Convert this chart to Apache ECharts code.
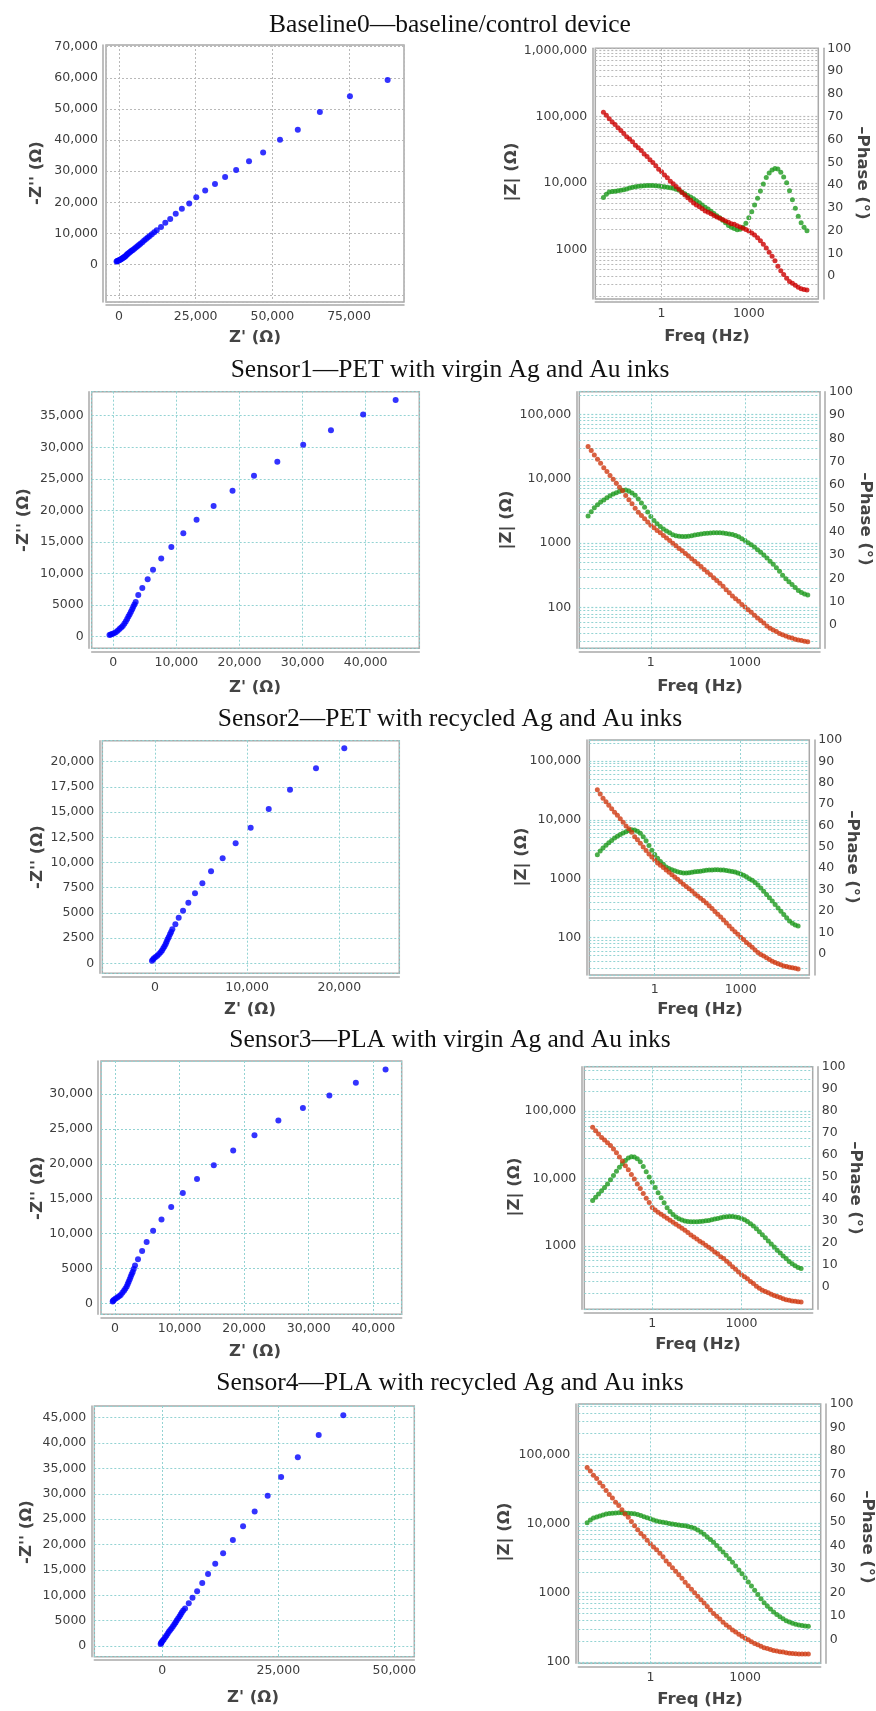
<!DOCTYPE html>
<html>
<head>
<meta charset="utf-8">
<title>Impedance of baseline and sensors</title>
<script src="https://cdn.jsdelivr.net/npm/echarts@6/dist/echarts.min.js"></script>
<style>
  html, body { margin: 0; padding: 0; background: #fff; }
  #chart { width: 876px; height: 1711px; }
</style>
</head>
<body>
<div id="chart"></div>
<script>
// measured frequencies (Hz), 10 per decade
const freq = [0.01, 0.0126, 0.0158, 0.02, 0.0251, 0.0316, 0.0398, 0.0501, 0.0631, 0.0794,
  0.1, 0.126, 0.158, 0.2, 0.251, 0.316, 0.398, 0.501, 0.631, 0.794,
  1, 1.26, 1.58, 2, 2.51, 3.16, 3.98, 5.01, 6.31, 7.94,
  10, 12.6, 15.8, 20, 25.1, 31.6, 39.8, 50.1, 63.1, 79.4,
  100, 126, 158, 200, 251, 316, 398, 501, 631, 794,
  1000, 1260, 1580, 2000, 2510, 3160, 3980, 5010, 6310, 7940,
  10000, 12600, 15800, 20000, 25100, 31600, 39800, 50100, 63100, 79400,
  100000]

// |Z| (ohm) per device
const zBaseline = [117000, 105000, 93000, 83000, 76000, 68000, 62000, 56000, 50000, 46000,
  42000, 37000, 34000, 31000, 27500, 25100, 22400, 20400, 18200, 16200,
  14800, 13200, 12000, 10700, 9800, 8900, 8100, 7200, 6600, 6000,
  5500, 5000, 4700, 4400, 4100, 3800, 3630, 3470, 3240, 3090,
  2950, 2820, 2690, 2570, 2450, 2400, 2290, 2190, 2090, 2000,
  1900, 1780, 1660, 1510, 1350, 1200, 1050, 910, 790, 680,
  560, 480, 420, 370, 330, 310, 290, 270, 257, 251,
  245]
const zSensor1 = [31600, 27500, 23400, 20000, 17400, 14800, 12900, 11200, 9800, 8500,
  7400, 6500, 5500, 4700, 4100, 3470, 3020, 2690, 2400, 2140,
  1900, 1740, 1580, 1450, 1320, 1200, 1100, 1000, 910, 830,
  760, 690, 630, 575, 525, 480, 435, 390, 355, 325,
  290, 263, 240, 214, 190, 170, 151, 138, 126, 112,
  102, 93, 85, 76, 69, 63, 58, 52, 48, 45,
  42.7, 39.8, 38.0, 36.3, 34.7, 33.9, 32.4, 31.6, 30.9, 30.2,
  29.5]
const zSensor2 = [32400, 27500, 23400, 20400, 17800, 15500, 13500, 12000, 10500, 9100,
  7900, 7100, 6200, 5200, 4600, 4000, 3470, 3020, 2630, 2340,
  2090, 1860, 1700, 1550, 1410, 1290, 1170, 1070, 980, 890,
  810, 740, 680, 620, 560, 510, 470, 430, 390, 350,
  315, 280, 250, 224, 200, 178, 158, 141, 126, 115,
  102, 93, 83, 76, 69, 62, 56, 52, 49, 45.7,
  42.7, 39.8, 38.0, 36.3, 34.7, 33.1, 32.4, 31.6, 30.9, 30.2,
  29.5]
const zSensor3 = [57500, 51300, 45700, 40700, 37200, 33900, 30900, 27500, 24000, 20900,
  18200, 15500, 13500, 11500, 9800, 8300, 7100, 6000, 5100, 4400,
  3720, 3390, 3160, 2950, 2750, 2570, 2400, 2240, 2090, 1950,
  1820, 1700, 1580, 1450, 1350, 1260, 1170, 1100, 1020, 950,
  890, 810, 760, 690, 645, 590, 540, 490, 447, 407,
  372, 347, 324, 295, 275, 251, 234, 219, 209, 200,
  190, 182, 176, 170, 164, 158, 155, 151, 150, 148,
  146]
const zSensor4 = [64600, 57500, 50100, 44700, 38900, 34700, 30200, 26300, 23400, 20400,
  18200, 15800, 13800, 12300, 10700, 9300, 8100, 7200, 6500, 5750,
  5100, 4570, 4170, 3720, 3310, 2880, 2570, 2290, 2040, 1820,
  1620, 1410, 1260, 1120, 1000, 890, 790, 710, 630, 560,
  500, 457, 417, 372, 339, 316, 288, 269, 251, 234,
  219, 209, 195, 184, 176, 168, 160, 155, 150, 146,
  143, 140, 138, 135, 133, 132, 131, 130, 129.5, 129,
  129]

// -phase (deg) per device
const phBaseline = [34.5, 36.0, 37.0, 37.2, 37.3, 37.5, 37.7, 37.9, 38.3, 38.7,
  39.0, 39.3, 39.5, 39.6, 39.7, 39.8, 39.8, 39.8, 39.7, 39.6,
  39.4, 39.2, 39.0, 38.8, 38.6, 38.2, 37.7, 37.0, 36.2, 35.4,
  34.8, 34.0, 33.1, 32.2, 31.2, 30.3, 29.5, 28.5, 27.5, 26.5,
  25.6, 24.6, 23.5, 22.3, 21.5, 20.9, 20.4, 20.6, 21.5, 23.2,
  25.7, 28.3, 31.2, 34.2, 37.4, 40.5, 43.3, 45.3, 46.6, 47.3,
  47.0, 45.6, 43.5, 41.0, 37.5, 33.5, 29.8, 26.3, 23.5, 21.5,
  20.0]
const phSensor1 = [46.7, 48.5, 50.2, 51.5, 52.7, 53.6, 54.5, 55.4, 56.1, 56.7,
  57.3, 57.8, 57.9, 57.4, 56.6, 55.6, 54.0, 52.3, 50.5, 48.4,
  46.5, 44.8, 43.4, 42.2, 41.1, 40.3, 39.5, 38.7, 38.2, 38.0,
  37.9, 37.9, 38.0, 38.3, 38.6, 38.8, 39.0, 39.2, 39.3, 39.4,
  39.5, 39.5, 39.5, 39.4, 39.2, 39.0, 38.8, 38.4, 37.8, 37.0,
  36.2, 35.3, 34.4, 33.4, 32.3, 31.2, 30.0, 28.7, 27.3, 26.0,
  24.5, 23.0, 21.3, 19.8, 18.5, 17.3, 16.1, 14.8, 13.9, 13.3,
  12.9]
const phSensor2 = [46.3, 48.0, 49.4, 50.7, 51.9, 53.0, 54.1, 55.0, 55.8, 56.5,
  57.1, 57.6, 58.0, 57.9, 57.3, 56.3, 54.7, 52.8, 50.6, 48.4,
  46.4, 44.6, 43.1, 41.8, 40.6, 39.9, 39.3, 38.8, 38.3, 38.0,
  37.8, 37.8, 37.9, 38.1, 38.3, 38.5, 38.6, 38.8, 39.0, 39.1,
  39.2, 39.3, 39.3, 39.2, 39.1, 38.9, 38.7, 38.5, 38.2, 37.8,
  37.3, 36.7, 36.0, 35.1, 34.3, 33.3, 32.1, 30.7, 29.2, 27.7,
  26.2, 24.6, 23.0, 21.4, 19.8, 18.3, 16.8, 15.3, 14.2, 13.4,
  12.9]
const phSensor3 = [39.3, 40.8, 42.3, 43.7, 45.2, 46.8, 48.7, 50.7, 52.6, 54.4,
  56.0, 57.5, 58.6, 59.2, 59.1, 58.3, 56.9, 54.7, 52.4, 50.0,
  47.6, 45.2, 42.9, 40.6, 38.3, 36.1, 34.3, 33.0, 31.9, 31.1,
  30.5, 30.0, 29.8, 29.7, 29.7, 29.7, 29.8, 29.9, 30.1, 30.3,
  30.6, 30.9, 31.2, 31.5, 31.8, 32.0, 32.1, 32.1, 31.9, 31.6,
  31.2, 30.6, 29.8, 28.8, 27.8, 26.5, 25.2, 23.8, 22.4, 21.0,
  19.6, 18.2, 16.8, 15.5, 14.2, 13.0, 11.7, 10.6, 9.7, 9.0,
  8.5]
const phSensor4 = [49.6, 50.8, 51.6, 52.1, 52.5, 52.9, 53.3, 53.5, 53.7, 53.8,
  53.9, 53.9, 53.8, 53.7, 53.6, 53.4, 53.1, 52.7, 52.2, 51.7,
  51.3, 50.8, 50.4, 50.1, 49.8, 49.6, 49.3, 49.1, 48.9, 48.7,
  48.5, 48.3, 48.0, 47.7, 47.3, 46.6, 45.7, 44.7, 43.6, 42.5,
  41.3, 40.0, 38.6, 37.2, 35.8, 34.4, 32.9, 31.3, 29.6, 28.0,
  26.3, 24.5, 22.8, 21.0, 19.2, 17.4, 15.7, 14.3, 13.0, 11.8,
  10.7, 9.7, 8.9, 8.1, 7.5, 7.0, 6.6, 6.3, 6.0, 5.8,
  5.7]

// Nyquist points [Z', -Z''] (ohm)
const nyqBaseline = [[87600, 59300], [75300, 54100], [65500, 49000], [58300, 43300], [52500, 40100],
  [47000, 36000], [42400, 33200], [38200, 30400], [34600, 28100], [31300, 25900], [28100, 23800],
  [25200, 21600], [22900, 19600], [20500, 17900], [18500, 16300], [16700, 14600], [15100, 13400],
  [13700, 12100], [12300, 11000], [11500, 10400], [10700, 9700], [10000, 9200], [9400, 8700],
  [8800, 8200], [8200, 7700], [7600, 7200], [7000, 6700], [6500, 6300], [6000, 5900], [5500, 5500],
  [5000, 5100], [4500, 4700], [4100, 4400], [3700, 4100], [3300, 3800], [2900, 3500], [2600, 3200],
  [2300, 2900], [2000, 2600], [1700, 2400], [1400, 2200], [1100, 2000], [800, 1800], [500, 1600],
  [200, 1500], [-100, 1300], [-400, 1200], [-600, 1100], [-800, 1000]]
const nyqSensor1 = [[44750, 37500], [39600, 35200], [34500, 32700], [30100, 30400], [26000, 27700],
  [22300, 25500], [18900, 23100], [15900, 20700], [13200, 18500], [11100, 16400], [9200, 14200],
  [7600, 12400], [6300, 10600], [5450, 9100], [4600, 7700], [3960, 6600], [3550, 5500], [3350, 5100],
  [3170, 4750], [3000, 4350], [2800, 3960], [2600, 3550], [2400, 3200], [2200, 2800], [1980, 2400],
  [1750, 2050], [1500, 1700], [1250, 1450], [980, 1200], [700, 950], [400, 700], [100, 550],
  [-180, 420], [-400, 330], [-600, 260]]
const nyqSensor2 = [[20540, 21330], [17470, 19350], [14650, 17220], [12340, 15310], [10380, 13450],
  [8750, 11900], [7340, 10420], [6080, 9130], [5140, 7940], [4340, 6940], [3620, 6010], [3040, 5220],
  [2570, 4520], [2210, 3870], [1880, 3370], [1750, 3100], [1630, 2880], [1500, 2620], [1370, 2380],
  [1260, 2150], [1160, 1920], [1030, 1700], [900, 1490], [760, 1280], [610, 1090], [430, 920],
  [250, 760], [70, 620], [-110, 500], [-220, 380], [-330, 260]]
const nyqSensor3 = [[41900, 33500], [37300, 31600], [33200, 29800], [29100, 28000], [25300, 26200],
  [21600, 24100], [18300, 21900], [15300, 19800], [12700, 17800], [10500, 15800], [8700, 13800],
  [7200, 12000], [5900, 10400], [4900, 8800], [4200, 7500], [3560, 6300], [3100, 5400], [2900, 4900],
  [2740, 4500], [2580, 4150], [2430, 3800], [2280, 3450], [2120, 3100], [1970, 2750], [1810, 2400],
  [1600, 2100], [1390, 1800], [1140, 1500], [880, 1200], [620, 1000], [360, 840], [100, 670],
  [-150, 500], [-300, 350], [-360, 260]]
const nyqSensor4 = [[39000, 45500], [33700, 41600], [29200, 37200], [25600, 33300], [22700, 29600],
  [19900, 26500], [17400, 23600], [15200, 20900], [13100, 18300], [11400, 16200], [9850, 14200],
  [8600, 12400], [7500, 10800], [6500, 9500], [5700, 8400], [4900, 7400], [4500, 7000], [4200, 6600],
  [3950, 6200], [3700, 5800], [3400, 5400], [3100, 5000], [2850, 4650], [2600, 4300], [2300, 3900],
  [2000, 3500], [1700, 3150], [1400, 2800], [1130, 2400], [860, 2000], [580, 1650], [290, 1300],
  [70, 1050], [-140, 800], [-250, 600], [-360, 400]]

const titles = ['Baseline0\u2014baseline/control device',
  'Sensor1\u2014PET with virgin Ag and Au inks',
  'Sensor2\u2014PET with recycled Ag and Au inks',
  'Sensor3\u2014PLA with virgin Ag and Au inks',
  'Sensor4\u2014PLA with recycled Ag and Au inks']
const titleY = [25, 370, 719, 1040, 1383]

const FRAME = '#a9a9a9'
const GRID_GREY = '#b9b9b9'
const GRID_CYAN = '#93d3d3'
const LABEL = { fontFamily: 'DejaVu Sans', fontSize: 12.5, color: '#3d3d3d' }
const NAME_FONT = 'bold 16.5px "DejaVu Sans"'
const NAME_COLOR = '#444444'
const F_MIN = 0.00525, F_MAX = 245500

// layout of each panel: box = [left, top, width, height]
const nyqPanels = [
  { data: nyqBaseline, box: [106, 45, 298, 257], x: [-4239, 92935, 25000], y: [-12030, 70547, 10000], grid: GRID_GREY, xName: [255, 338], yName: [37, 173] },
  { data: nyqSensor1, box: [91.7, 391.7, 327.6, 256.6], x: [-3420, 48500, 10000], y: [-1840, 38800, 5000], grid: GRID_CYAN, xName: [255, 688], yName: [24, 520] },
  { data: nyqSensor2, box: [102.3, 740.7, 297, 232.6], x: [-5720, 26510, 10000], y: [-990, 22080, 2500], grid: GRID_CYAN, xName: [250, 1010], yName: [38, 857] },
  { data: nyqSensor3, box: [101, 1061, 300.7, 253.3], x: [-2170, 44400, 10000], y: [-1580, 34730, 5000], grid: GRID_CYAN, xName: [255, 1352], yName: [38, 1188] },
  { data: nyqSensor4, box: [94.3, 1406, 320, 250.7], x: [-14660, 54300, 25000], y: [-2110, 47300, 5000], grid: GRID_CYAN, xName: [253, 1698], yName: [27, 1532] }
]
const bodePanels = [
  { z: zBaseline, ph: phBaseline, box: [595.3, 48.3, 223, 250.7], zr: [180, 1070000], grid: GRID_GREY, red: '#cc0000', xName: [707, 337], zName: [512, 172], phName: [862, 173] },
  { z: zSensor1, ph: phSensor1, box: [579.3, 391.7, 240.7, 256.6], zr: [23.4, 224000], grid: GRID_CYAN, red: '#cf3a12', xName: [700, 687], zName: [507, 520], phName: [865, 519] },
  { z: zSensor2, ph: phSensor2, box: [589.3, 740, 220, 235], zr: [23.3, 227500], grid: GRID_CYAN, red: '#cf3a12', xName: [700, 1010], zName: [522, 857], phName: [852, 857] },
  { z: zSensor3, ph: phSensor3, box: [584.3, 1066.7, 228.4, 242.6], zr: [114, 457000], grid: GRID_CYAN, red: '#cf3a12', xName: [698, 1345], zName: [515, 1187], phName: [855, 1188] },
  { z: zSensor4, ph: phSensor4, box: [578.3, 1404, 242.4, 259.3], zr: [95, 537000], grid: GRID_CYAN, red: '#cf3a12', xName: [700, 1700], zName: [505, 1532], phName: [867, 1537] }
]

function fmt(v) {
  return Math.abs(v) >= 10000 ? v.toLocaleString('en-US') : String(v)
}
function isDecade(v, p) {
  const l = Math.log10(v)
  return Math.abs(l - Math.round(l)) < 1e-6 && (p === undefined || Math.round(l) === p)
}
function nameText(text, pos, rotation) {
  return {
    type: 'text', x: pos[0], y: pos[1], rotation: rotation || 0, silent: true,
    style: { text: text, font: NAME_FONT, fill: NAME_COLOR, align: 'center', verticalAlign: 'middle', textAlign: 'center', textVerticalAlign: 'middle' }
  }
}

const grids = [], xAxes = [], yAxes = [], series = [], graphic = []

titles.forEach((t, i) => {
  graphic.push({
    type: 'text', x: 450, y: titleY[i], silent: true,
    style: { text: t, font: '25.5px "Liberation Serif"', fill: '#111', align: 'center', verticalAlign: 'middle', textAlign: 'center', textVerticalAlign: 'middle' }
  })
})

nyqPanels.forEach(p => {
  const gi = grids.length
  grids.push({ left: p.box[0], top: p.box[1], width: p.box[2], height: p.box[3], show: true, borderColor: FRAME, borderWidth: 1.5 })
  const xi = xAxes.length
  xAxes.push({
    type: 'value', gridIndex: gi, min: p.x[0], max: p.x[1], minInterval: p.x[2], maxInterval: p.x[2], offset: 3,
    axisLine: { show: true, onZero: false, lineStyle: { color: FRAME, width: 1.5 } },
    axisTick: { show: false },
    axisLabel: { ...LABEL, margin: 5, formatter: v => (v >= 0 && v % p.x[2] === 0) ? fmt(v) : '' },
    splitLine: { show: true, lineStyle: { color: p.grid, type: [2, 2], width: 1 } }
  })
  const yi = yAxes.length
  yAxes.push({
    type: 'value', gridIndex: gi, min: p.y[0], max: p.y[1], minInterval: p.y[2], maxInterval: p.y[2], offset: 3,
    axisLine: { show: true, onZero: false, lineStyle: { color: FRAME, width: 1.5 } },
    axisTick: { show: false },
    axisLabel: { ...LABEL, margin: 5, formatter: v => (v >= 0 && v % p.y[2] === 0) ? fmt(v) : '' },
    splitLine: { show: true, lineStyle: { color: p.grid, type: [2, 2], width: 1 } }
  })
  series.push({
    type: 'scatter', xAxisIndex: xi, yAxisIndex: yi, symbolSize: 6,
    itemStyle: { color: '#0000ff' }, data: p.data
  })
  graphic.push(nameText("Z' (\u03a9)", p.xName))
  graphic.push(nameText("-Z'' (\u03a9)", p.yName, Math.PI / 2))
})

bodePanels.forEach(p => {
  const gi = grids.length
  grids.push({ left: p.box[0], top: p.box[1], width: p.box[2], height: p.box[3], show: true, borderColor: FRAME, borderWidth: 1.5 })
  const xi = xAxes.length
  xAxes.push({
    type: 'log', logBase: 10, gridIndex: gi, min: F_MIN, max: F_MAX, offset: 3,
    axisLine: { show: true, onZero: false, lineStyle: { color: FRAME, width: 1.5 } },
    axisTick: { show: false },
    axisLabel: { ...LABEL, margin: 5, formatter: v => isDecade(v, 0) ? '1' : (isDecade(v, 3) ? '1000' : '') },
    splitLine: { show: false }
  })
  const zi = yAxes.length
  yAxes.push({
    type: 'log', logBase: 10, gridIndex: gi, position: 'left', min: p.zr[0], max: p.zr[1], offset: 3,
    axisLine: { show: true, onZero: false, lineStyle: { color: FRAME, width: 1.5 } },
    axisTick: { show: false },
    axisLabel: { ...LABEL, margin: 5, formatter: v => isDecade(v) ? fmt(Math.round(v)) : '' },
    splitLine: { show: true, lineStyle: { color: p.grid, type: [2, 2], width: 1.2 } },
    minorTick: { show: false, splitNumber: 9 },
    minorSplitLine: { show: true, lineStyle: { color: p.grid, type: [2, 2], width: 1 } }
  })
  const pi = yAxes.length
  yAxes.push({
    type: 'value', gridIndex: gi, position: 'right', min: -10, max: 100, interval: 10, offset: 5,
    axisLine: { show: true, onZero: false, lineStyle: { color: FRAME, width: 1.5 } },
    axisTick: { show: false },
    axisLabel: { ...LABEL, margin: 4, formatter: v => v < 0 ? '' : String(v) },
    splitLine: { show: false }
  })
  series.push({
    type: 'scatter', xAxisIndex: xi, yAxisIndex: pi, symbolSize: 5,
    itemStyle: { color: '#1e9a1e' },
    data: freq.map((f, i) => [f, p.ph[i]]),
    markLine: {
      silent: true, symbol: 'none', label: { show: false }, animation: false,
      lineStyle: { color: p.grid, type: [2, 2], width: 1 },
      data: [{ xAxis: 1 }, { xAxis: 1000 }]
    }
  })
  series.push({
    type: 'scatter', xAxisIndex: xi, yAxisIndex: zi, symbolSize: 5,
    itemStyle: { color: p.red },
    data: freq.map((f, i) => [f, p.z[i]])
  })
  graphic.push(nameText('Freq (Hz)', p.xName))
  graphic.push(nameText('|Z| (\u03a9)', p.zName, Math.PI / 2))
  graphic.push(nameText('\u2013Phase (\u00b0)', p.phName, -Math.PI / 2))
})

const chart = echarts.init(document.getElementById('chart'))
chart.setOption({
  animation: false,
  backgroundColor: '#ffffff',
  grid: grids,
  xAxis: xAxes,
  yAxis: yAxes,
  series: series,
  graphic: graphic
})
window.addEventListener('resize', () => chart.resize())
</script>
</body>
</html>
